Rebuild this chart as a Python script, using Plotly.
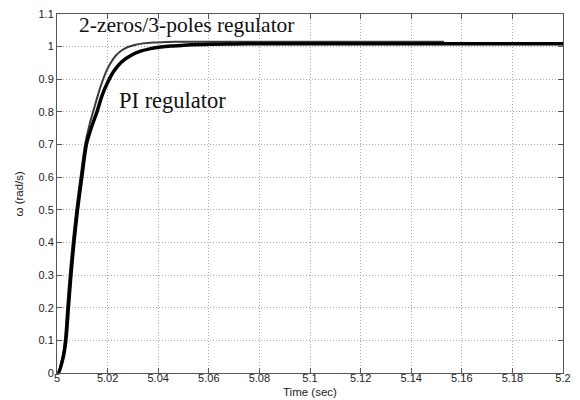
import plotly.graph_objects as go

# Speed step responses (time in s, omega in rad/s)
t_pi = [5.0, 5.0005, 5.0025, 5.0035, 5.0045, 5.0055, 5.0067, 5.0081, 5.0098, 5.0116,
        5.0135, 5.0158, 5.0178, 5.0200, 5.0225, 5.0255, 5.029, 5.033, 5.037, 5.041,
        5.045, 5.050, 5.060, 5.070, 5.080, 5.100, 5.130, 5.160, 5.200]
w_pi = [0.0, 0.0, 0.05, 0.1, 0.2, 0.3, 0.4, 0.5, 0.6, 0.7,
        0.75, 0.8, 0.85, 0.89, 0.925, 0.953, 0.972, 0.986, 0.994, 0.999,
        1.002, 1.004, 1.007, 1.008, 1.009, 1.009, 1.009, 1.009, 1.009]

t_zp = [5.0, 5.0004, 5.0022, 5.0031, 5.0040, 5.0050, 5.0062, 5.0076, 5.0093, 5.0111,
        5.0130, 5.0150, 5.0165, 5.0180, 5.0195, 5.0212, 5.0232, 5.0255, 5.028, 5.031,
        5.034, 5.038, 5.043, 5.050, 5.060, 5.080, 5.100, 5.130, 5.153]
w_zp = [0.0, 0.0, 0.05, 0.1, 0.2, 0.3, 0.4, 0.5, 0.6, 0.7,
        0.765, 0.82, 0.86, 0.895, 0.925, 0.95, 0.972, 0.988, 0.999, 1.006,
        1.010, 1.013, 1.014, 1.015, 1.015, 1.015, 1.015, 1.015, 1.015]

x_ticks = [5.0, 5.02, 5.04, 5.06, 5.08, 5.1, 5.12, 5.14, 5.16, 5.18, 5.2]
x_labels = ["5", "5.02", "5.04", "5.06", "5.08", "5.1", "5.12", "5.14", "5.16", "5.18", "5.2"]
y_ticks = [0, 0.1, 0.2, 0.3, 0.4, 0.5, 0.6, 0.7, 0.8, 0.9, 1.0, 1.1]
y_labels = ["0", "0.1", "0.2", "0.3", "0.4", "0.5", "0.6", "0.7", "0.8", "0.9", "1", "1.1"]

fig = go.Figure()
fig.add_trace(go.Scatter(x=t_zp, y=w_zp, mode="lines",
                         line=dict(color="#3a3a3a", width=2, shape="spline", smoothing=0.8),
                         showlegend=False))
fig.add_trace(go.Scatter(x=t_pi, y=w_pi, mode="lines",
                         line=dict(color="#000000", width=3.5, shape="spline", smoothing=0.8),
                         showlegend=False))

axis_common = dict(showline=True, linecolor="#555555", linewidth=1, mirror="ticks",
                   ticks="inside", ticklen=5, tickcolor="#555555", automargin=False,
                   showgrid=True, gridcolor="#a8a8a8", griddash="1px,2px", gridwidth=1,
                   zeroline=False, tickfont=dict(family="Liberation Sans, Arial", size=11, color="#222222"))

fig.update_xaxes(range=[5.0, 5.2], tickvals=x_ticks, ticktext=x_labels, ticklabelstandoff=-5,
                 **axis_common)
fig.update_yaxes(range=[0, 1.1], tickvals=y_ticks, ticktext=y_labels, **axis_common)

axis_title_font = dict(family="Liberation Sans, Arial", size=11.5, color="#222222")
fig.add_annotation(x=0.5, y=-0.054, xref="paper", yref="paper", text="Time (sec)",
                   showarrow=False, xanchor="center", yanchor="middle", font=axis_title_font)
fig.add_annotation(x=-0.077, y=0.5, xref="paper", yref="paper", text="ω (rad/s)",
                   showarrow=False, xanchor="center", yanchor="middle", textangle=-90,
                   font=axis_title_font)

fig.add_annotation(x=5.0080, y=1.022, xref="x", yref="y", text="2-zeros/3-poles regulator",
                   showarrow=False, xanchor="left", yanchor="bottom",
                   font=dict(family="Liberation Serif, Times New Roman", size=21.5, color="#111111"))
fig.add_annotation(x=5.0237, y=0.79, xref="x", yref="y", text="PI regulator",
                   showarrow=False, xanchor="left", yanchor="bottom",
                   font=dict(family="Liberation Serif, Times New Roman", size=22.5, color="#111111"))

fig.update_layout(width=580, height=400, margin=dict(l=57, r=17, t=14, b=27),
                  paper_bgcolor="white", plot_bgcolor="white")

fig.write_html("out.html")
